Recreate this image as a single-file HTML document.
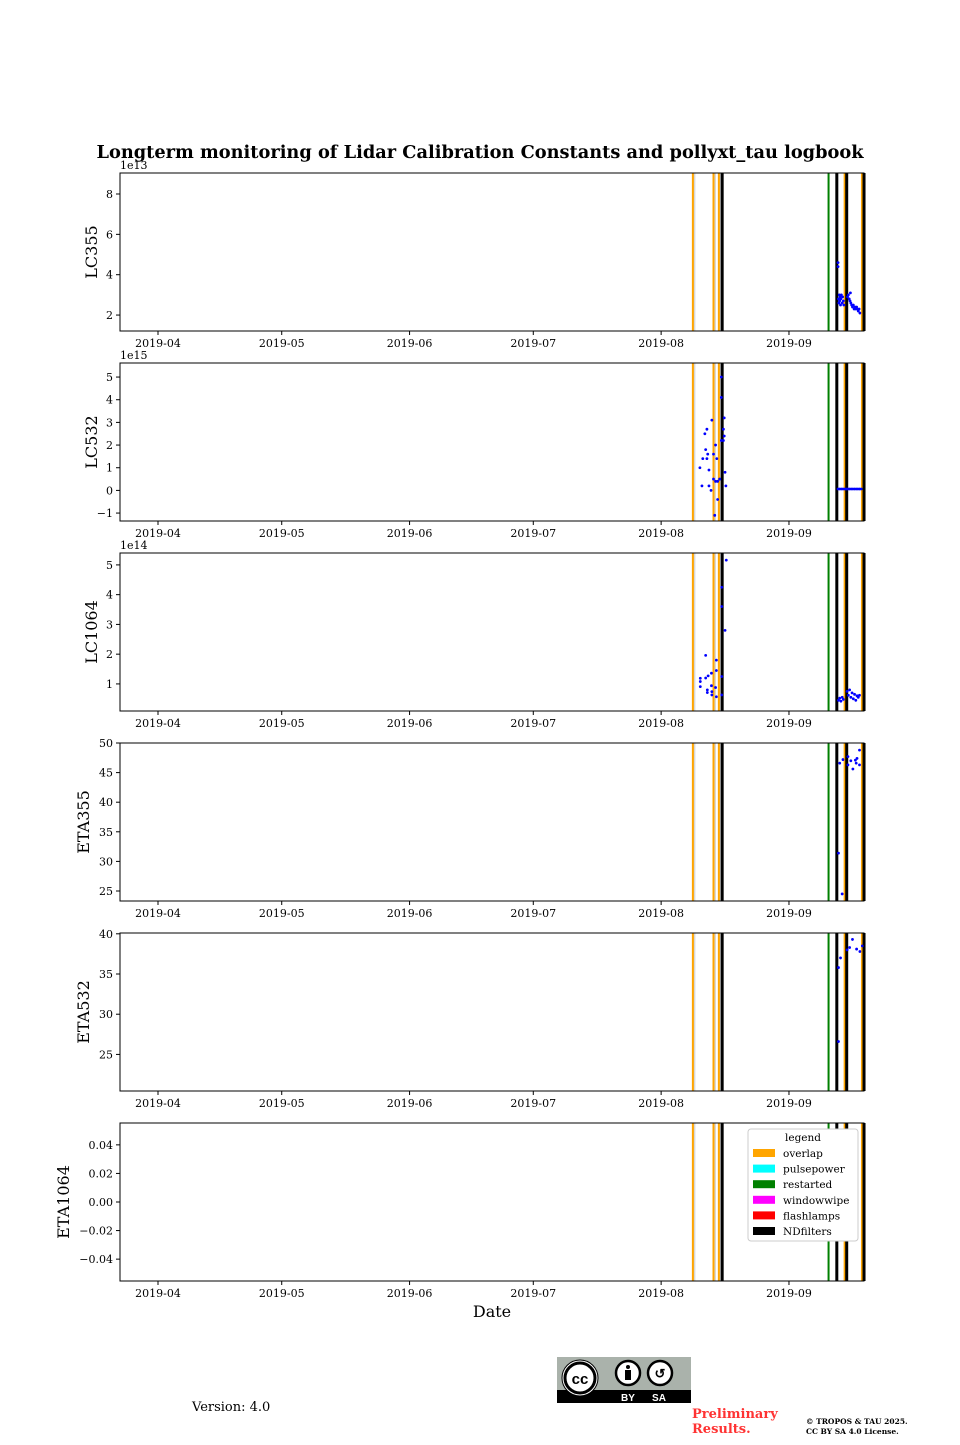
<!DOCTYPE html>
<html><head><meta charset="utf-8">
<style>
body{margin:0;background:#fff;}
svg text{font-family:"DejaVu Serif","Liberation Serif",serif;}
</style></head>
<body>
<svg id="fig" width="960" height="1440" xmlns="http://www.w3.org/2000/svg">
<text x="480" y="158" text-anchor="middle" font-size="17.8" font-weight="bold" textLength="767" lengthAdjust="spacingAndGlyphs">Longterm monitoring of Lidar Calibration Constants and pollyxt_tau logbook</text>
<g id="panels"></g>
<text x="492" y="1317" text-anchor="middle" font-size="16">Date</text>
<text x="192" y="1411" font-size="13">Version: 4.0</text>
<g>
<rect x="557" y="1357" width="134" height="46" fill="#aab2ab"/>
<rect x="557" y="1390" width="134" height="13" fill="#000"/>
<circle cx="580" cy="1378" r="18" fill="#fff" stroke="#000" stroke-width="1"/>
<circle cx="580" cy="1378" r="15" fill="#fff" stroke="#000" stroke-width="3"/>
<text x="580" y="1384" text-anchor="middle" font-size="15" font-weight="bold" style="font-family:'Liberation Sans',sans-serif">cc</text>
<circle cx="628" cy="1373" r="12" fill="#fff" stroke="#000" stroke-width="2.5"/>
<circle cx="628" cy="1367" r="2" fill="#000"/>
<rect x="625" y="1370" width="6" height="10" fill="#000"/>
<circle cx="660" cy="1373" r="12" fill="#fff" stroke="#000" stroke-width="2.5"/>
<text x="660" y="1378" text-anchor="middle" font-size="13" font-weight="bold" style="font-family:'Liberation Sans',sans-serif">↺</text>
<text x="628" y="1401" text-anchor="middle" font-size="10" fill="#fff" font-weight="bold" style="font-family:'Liberation Sans',sans-serif">BY</text>
<text x="659" y="1401" text-anchor="middle" font-size="10" fill="#fff" font-weight="bold" style="font-family:'Liberation Sans',sans-serif">SA</text>
</g>
<text x="692" y="1418" font-size="13" font-weight="bold" fill="#ff3333">Preliminary</text>
<text x="692" y="1433" font-size="13" font-weight="bold" fill="#ff3333">Results.</text>
<text x="806" y="1424" font-size="7.5" font-weight="bold">© TROPOS &amp; TAU 2025.</text>
<text x="806" y="1434" font-size="7.5" font-weight="bold">CC BY SA 4.0 License.</text>
</svg>
<script>
// dates as day-of-year 2019
const xTickLabels = ["2019-04","2019-05","2019-06","2019-07","2019-08","2019-09"];
const xTickDays = [91,121,152,182,213,244];
const eventDays = [220.7,225.7,227.0,227.8,253.6,255.6,257.5,258.0,261.7,262.2];
const eventTypes = ["overlap","overlap","overlap","NDfilters","restarted","NDfilters","overlap","NDfilters","overlap","NDfilters"];
const legendLabels = ["overlap","pulsepower","restarted","windowwipe","flashlamps","NDfilters"];
const legendColors = ["orange","cyan","green","magenta","red","black"];

const lc355Days = [255.9,255.9,256.0,256.1,256.2,256.3,256.4,256.5,256.6,256.7,256.9,257.0,257.2,257.3,258.2,258.4,258.6,258.8,259.0,259.2,259.4,259.6,259.8,260.0,260.2,260.4,260.6,260.8,261.0,261.2,258.9];
const lc355Vals = [4.6,4.4,2.8,2.6,3.0,2.7,2.9,2.5,2.8,3.0,2.6,2.9,2.7,2.5,2.9,3.0,2.8,2.7,2.6,2.5,2.4,2.5,2.3,2.4,2.3,2.4,2.3,2.2,2.3,2.1,3.1];

const lc532Days = [222.4,222.9,223.6,224.1,223.8,224.3,223.1,224.1,224.6,225.3,225.7,226.2,224.6,225.1,225.7,226.2,226.7,227.2,227.6,228.1,228.3,228.1,228.3,228.5,228.7,227.6,227.6,226.5,226.7,226.0];
const lc532Vals = [1.0,0.2,2.5,2.7,1.8,1.6,1.4,1.4,0.9,3.1,1.6,2.0,0.2,0.0,0.5,0.4,0.4,0.5,2.2,2.2,3.2,2.7,2.4,0.8,0.2,5.0,4.1,1.4,-0.4,-1.1];
const lc532FlatDays = [255.9,256.3,256.7,257.1,257.5,257.9,258.3,258.7,259.1,259.5,259.9,260.3,260.7,261.1,261.5];
const lc532FlatVals = [0.06,0.06,0.06,0.06,0.06,0.06,0.06,0.06,0.06,0.06,0.06,0.06,0.06,0.06,0.06];

const lc1064Days = [228.8,227.7,227.7,228.5,223.8,226.4,226.4,225.2,224.4,223.8,222.5,222.5,222.5,225.2,226.2,224.2,224.2,225.3,225.3,226.4,227.7,227.7,256.0,256.3,256.6,256.9,257.2,258.1,258.4,258.7,259.0,259.3,259.6,259.9,260.2,260.5,260.8,261.1];
const lc1064Vals = [5.16,4.25,3.6,2.8,1.96,1.8,1.45,1.36,1.27,1.2,1.19,1.08,0.91,0.94,0.88,0.8,0.71,0.74,0.63,0.57,1.25,0.63,0.45,0.52,0.42,0.55,0.48,0.75,0.62,0.8,0.55,0.7,0.5,0.65,0.45,0.6,0.55,0.62];

const eta355Days = [256.3,257.1,258.3,258.3,259.0,259.5,260.1,260.3,260.5,261.1,261.1,256.0,256.9];
const eta355Vals = [46.6,47.2,47.7,46.3,47.0,45.6,47.1,46.6,47.4,48.8,46.3,31.4,24.5];

const eta532Days = [259.4,258.7,260.4,261.2,261.8,256.0,256.5,256.0,258.1];
const eta532Vals = [39.3,38.3,38.1,37.8,38.5,35.8,37.0,26.6,38.0];

const eta1064Days = [];
const eta1064Vals = [];

const panels = [
 {name:"LC355", top:173, ymin:1.21, ymax:9.04, ticks:[2,4,6,8], tl:["2","4","6","8"], exp:"1e13", d:lc355Days, v:lc355Vals},
 {name:"LC532", top:363, ymin:-1.35, ymax:5.62, ticks:[-1,0,1,2,3,4,5], tl:["−1","0","1","2","3","4","5"], exp:"1e15", d:lc532Days.concat(lc532FlatDays), v:lc532Vals.concat(lc532FlatVals)},
 {name:"LC1064", top:553, ymin:0.09, ymax:5.40, ticks:[1,2,3,4,5], tl:["1","2","3","4","5"], exp:"1e14", d:lc1064Days, v:lc1064Vals},
 {name:"ETA355", top:743, ymin:23.31, ymax:50, ticks:[25,30,35,40,45,50], tl:["25","30","35","40","45","50"], exp:"", d:eta355Days, v:eta355Vals},
 {name:"ETA532", top:933, ymin:20.45, ymax:40.1, ticks:[25,30,35,40], tl:["25","30","35","40"], exp:"", d:eta532Days, v:eta532Vals},
 {name:"ETA1064", top:1123, ymin:-0.0553, ymax:0.0553, ticks:[-0.04,-0.02,0,0.02,0.04], tl:["−0.04","−0.02","0.00","0.02","0.04"], exp:"", d:eta1064Days, v:eta1064Vals}
];
const NS="http://www.w3.org/2000/svg";
const L=120,R=864,H=158;
const xs = d => 158 + (d-91)*4.124;
function mk(tag,attrs,parent){const e=document.createElementNS(NS,tag);for(const k in attrs)e.setAttribute(k,attrs[k]);parent.appendChild(e);return e;}
const root=document.getElementById('panels');
panels.forEach((p,pi)=>{
  const g=mk('g',{},root);
  
  
  const ys = v => p.top + H - (v-p.ymin)/(p.ymax-p.ymin)*H;
  eventDays.forEach((d,i)=>{
    const t=eventTypes[i];
    const c=legendColors[legendLabels.indexOf(t)];
    const x=xs(d);
    if(t==="overlap"){
      const s=mk('rect',{x:x+0.5,y:p.top,width:2,height:H,fill:'#d8d8d8'},g);
      
      
    }
    const w = t==="NDfilters"?3:2;
    const r=mk('rect',{x:x-w/2,y:p.top,width:w,height:H,fill:c},g);
    
    
  });
  p.d.forEach((d,i)=>{
    const c=mk('circle',{cx:xs(d),cy:ys(p.v[i]),r:1.4,fill:'blue'},g);
    
    
  });
  const f=mk('rect',{x:L,y:p.top,width:R-L,height:H,fill:'none',stroke:'#000','stroke-width':1},g);
  
  
  xTickDays.forEach((d,i)=>{
    const x=xs(d);
    mk('line',{x1:x,x2:x,y1:p.top+H,y2:p.top+H+4,stroke:'#000'},g);
    const t=mk('text',{x:x,y:p.top+H+16,'text-anchor':'middle','font-size':11},g);
    t.textContent=xTickLabels[i];
    
    
  });
  p.ticks.forEach((v,i)=>{
    const y=ys(v);
    mk('line',{x1:L-4,x2:L,y1:y,y2:y,stroke:'#000'},g);
    const t=mk('text',{x:L-7,y:y+4,'text-anchor':'end','font-size':11},g);
    t.textContent=p.tl[i];
    
    
  });
  if(p.exp){
    const t=mk('text',{x:L,y:p.top-4,'font-size':11},g);
    t.textContent=p.exp;
    
    
  }
  const yl = pi===5?69:(pi>=3?89:97);
  const t=mk('text',{x:yl,y:p.top+H/2,'text-anchor':'middle','font-size':16,transform:`rotate(-90 ${yl} ${p.top+H/2})`},g);
  t.textContent=p.name;
  
  
});
const lg=mk('g',{},root);


mk('rect',{x:748,y:1129,width:110,height:112,rx:3,fill:'#fff',stroke:'#ccc'},lg);
const lt=mk('text',{x:803,y:1141,'text-anchor':'middle','font-size':10.5},lg);
lt.textContent='legend';
legendLabels.forEach((lab,i)=>{
  const y=1153+i*15.6;
  const e=mk('g',{},lg);
  
  
  mk('rect',{x:753,y:y-4,width:22,height:8,fill:legendColors[i]},e);
  const t=mk('text',{x:783,y:y+4,'font-size':10.5},e);
  t.textContent=lab;
});
</script>
</body></html>
